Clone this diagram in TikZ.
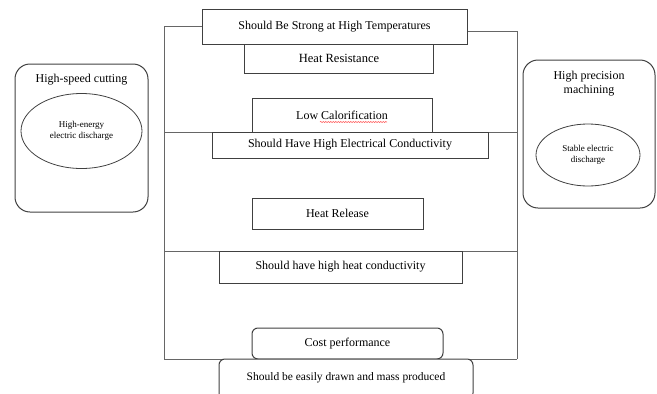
\documentclass[tikz,border=0pt]{standalone}
\usepackage{fontspec}
\setmainfont{Liberation Serif}
\usetikzlibrary{positioning}
\usetikzlibrary{shapes.geometric}
\usetikzlibrary{decorations.pathmorphing}
\tikzset{>=latex}
\tikzset{
  boxed/.style={draw=black!75, line width=1pt, fill=white, inner sep=0pt,
    font=\fontsize{12}{14}\selectfont},
  roundbox/.style={boxed, rounded corners=6pt},
  sidebox/.style={draw=black!75, line width=1pt, rounded corners=15pt, inner sep=0pt},
  sideoval/.style={ellipse, draw=black!75, line width=0.8pt, inner sep=0pt,
    font=\fontsize{9}{10.5}\selectfont, align=center},
  frameline/.style={draw=black!60, line width=1pt}
}

\begin{document}
\begin{tikzpicture}[x=1pt,y=-1pt]
    \useasboundingbox (0,0) rectangle (657,394);

    \coordinate (fbl) at (164, 359);
    \coordinate (fbr) at (517, 359);
    \coordinate (fl1) at (164, 132);
    \coordinate (fr1) at (517, 132);
    \coordinate (fl2) at (164, 251);
    \coordinate (fr2) at (517, 251);

    % the big frame and its cross lines
    \draw [frameline] (fl1) -- (fr1);
    \draw [frameline] (fl2) -- (fr2);
    \draw [frameline] (fbl) -- (fbr);

    % heat resistance, open at the top
    \node [inner sep=0pt, minimum width=188pt, minimum height=30pt,
    font=\fontsize{12.5}{14}\selectfont] (resist) at (339, 58.5) {Heat Resistance};
    \draw [draw=black!75, line width=1pt] (resist.north west) |- (resist.south east)
    -- (resist.north east);

    \node [boxed, minimum width=265pt, minimum height=35pt] (strong) at (334.5, 26.5)
    {Should Be Strong at High Temperatures};

    \draw [frameline] (strong.west) -| (fbl);
    \draw [frameline] ([yshift=-5pt]strong.east) -| (fbr);

    \node [boxed, minimum width=180pt, minimum height=34pt] (calor) at (342, 115)
    {Low Calorification};
    \draw [red!70, line width=0.5pt, decorate,
    decoration={snake, amplitude=0.6pt, segment length=2.5pt}]
    ([xshift=-22pt, yshift=-7pt]calor.center) -- ([xshift=45pt, yshift=-7pt]calor.center);

    \node [boxed, minimum width=276pt, minimum height=26pt] (elec) at (350, 145)
    {Should Have High Electrical Conductivity};

    \node [boxed, minimum width=171pt, minimum height=31pt] (release) at (337.5, 213.5)
    {Heat Release};

    \node [boxed, minimum width=243pt, minimum height=32pt] (heatc) at (340.5, 267)
    {Should have high heat conductivity};

    \node [roundbox, minimum width=191pt, minimum height=31pt] (cost) at (347.5, 343.5)
    {Cost performance};

    \node [roundbox, minimum width=254pt, minimum height=40pt,
    font=\fontsize{11.5}{14}\selectfont] (mass) at (346, 379)
    {\raisebox{4pt}{Should be easily drawn and mass produced}};

    % side boxes
    \node [sidebox, minimum width=133pt, minimum height=148pt] (speed) at (81.5, 138) {};
    \node [font=\fontsize{12}{14}\selectfont] (speedtxt) at (81.5, 80) {High-speed cutting};
    \node [sideoval, minimum width=121pt, minimum height=75pt] (energy) at (81.5, 131)
    {High-energy\\electric discharge};

    \node [sidebox, minimum width=132pt, minimum height=148pt] (precise) at (589, 134) {};
    \node [font=\fontsize{12}{14}\selectfont, align=center] (precisetxt) at (589, 84)
    {High precision\\machining};
    \node [sideoval, minimum width=104pt, minimum height=62pt] (stable) at (588, 155)
    {Stable electric\\discharge};
\end{tikzpicture}
\end{document}
